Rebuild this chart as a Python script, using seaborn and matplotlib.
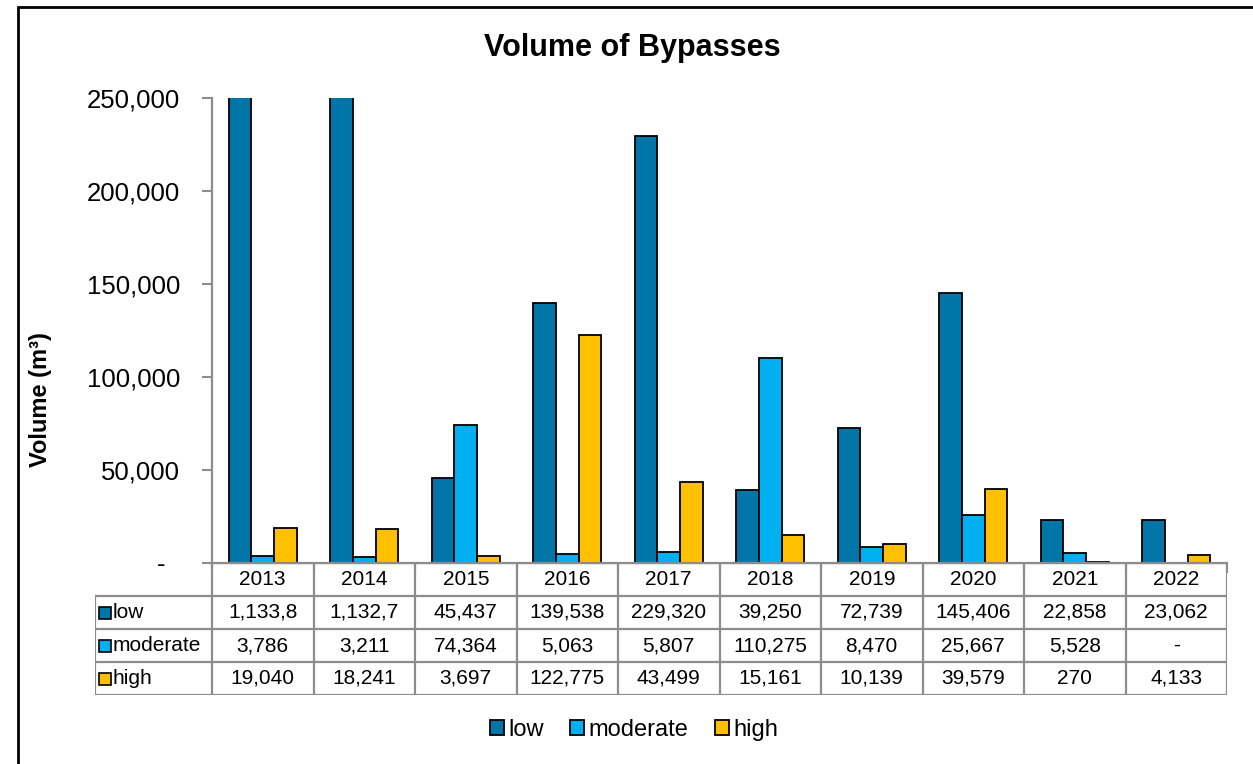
import numpy as np
import pandas as pd
import matplotlib
matplotlib.use('Agg')
import matplotlib.pyplot as plt
import seaborn as sns
from matplotlib.patches import Patch, Rectangle
from matplotlib.ticker import FuncFormatter, FixedLocator


years = ['2013', '2014', '2015', '2016', '2017', '2018', '2019', '2020', '2021', '2022']
levels = ['low', 'moderate', 'high']
low = [1133800, 1132700, 45437, 139538, 229320, 39250, 72739, 145406, 22858, 23062]
moderate = [3786, 3211, 74364, 5063, 5807, 110275, 8470, 25667, 5528, 0]
high = [19040, 18241, 3697, 122775, 43499, 15161, 10139, 39579, 270, 4133]
y_ticks = [0, 50000, 100000, 150000, 200000, 250000]

colors = {'low': '#0076A8', 'moderate': '#00B0F0', 'high': '#FFC000'}
grid_grey = '#8C8C8C'

W, H = 1253, 764

sns.set_style('white')
plt.rcParams['font.family'] = ['Liberation Sans', 'DejaVu Sans']
plt.rcParams['text.color'] = 'black'
plt.rcParams['xtick.color'] = 'black'
plt.rcParams['ytick.color'] = 'black'
plt.rcParams['axes.labelcolor'] = 'black'


def fmt_value(v):
    # Excel-style accounting: zero shown as a dash, wide values clipped by the cell
    if v == 0:
        return '-'
    return f'{v:,.0f}'[:7]


df = pd.DataFrame({
    'year': np.repeat(years, len(levels)),
    'level': levels * len(years),
    'volume': [v for trio in zip(low, moderate, high) for v in trio],
})

fig = plt.figure(figsize=(W / 100, H / 100), dpi=100)

# outer chart border (right/bottom edges fall outside the image)
fig.add_artist(Rectangle((18 / W, -0.05), 1.2, (H - 7) / H + 0.05,
                         transform=fig.transFigure, fill=False,
                         edgecolor='black', linewidth=2))

ax = fig.add_axes([212 / W, (H - 563) / H, (1227 - 212) / W, (563 - 98) / H])
sns.barplot(data=df, x='year', y='volume', hue='level', hue_order=levels,
            palette=colors, width=0.67, gap=0, edgecolor='black',
            linewidth=1.3, saturation=1, legend=False, ax=ax)

ax.set_ylim(0, 250000)
ax.set_xlim(-0.5, len(years) - 0.5)
ax.yaxis.set_major_locator(FixedLocator(y_ticks))
ax.yaxis.set_major_formatter(FuncFormatter(lambda v, p: '-  ' if v == 0 else f'{v:,.0f}'))
ax.tick_params(axis='y', length=7, width=1.5, color=grid_grey, labelcolor='black',
               pad=16, labelsize=18.5, left=True)
ax.set_xticks(np.arange(len(years) + 1) - 0.5)
ax.set_xticklabels([])
ax.tick_params(axis='x', length=7, width=1.5, color=grid_grey, bottom=True)
ax.set_xlabel('')
ax.set_ylabel('')
for side in ['top', 'right']:
    ax.spines[side].set_visible(False)
for side in ['left', 'bottom']:
    ax.spines[side].set_color(grid_grey)
    ax.spines[side].set_linewidth(1.6)

# data table under the plot
col_w = (1227 - 212) / len(years)
x_left = -0.5 - (212 - 95) / col_w
tax = fig.add_axes([95 / W, (H - 695) / H, (1227 - 95) / W, (695 - 563) / H])
tax.set_xlim(x_left, len(years) - 0.5)
tax.set_ylim(4, 0)
tax.axis('off')

line_kw = dict(color=grid_grey, linewidth=1.6, solid_capstyle='projecting')
for i in range(len(years) + 1):
    tax.plot([i - 0.5, i - 0.5], [0, 4], **line_kw)
tax.plot([x_left, x_left], [1, 4], **line_kw)
tax.plot([-0.5, len(years) - 0.5], [0, 0], **line_kw)
for r in range(1, 5):
    tax.plot([x_left, len(years) - 0.5], [r, r], **line_kw)

for i, yr in enumerate(years):
    tax.text(i, 0.5, yr, ha='center', va='center', fontsize=15)

series = {'low': low, 'moderate': moderate, 'high': high}
for r, lvl in enumerate(levels, start=1):
    tax.plot([x_left + 10 / col_w], [r + 0.5], marker='s', markersize=8,
             markerfacecolor=colors[lvl], markeredgecolor='black', markeredgewidth=1.2)
    tax.text(x_left + 18 / col_w, r + 0.5, lvl, ha='left', va='center', fontsize=15)
    for i, v in enumerate(series[lvl]):
        tax.text(i, r + 0.5, fmt_value(v), ha='center', va='center', fontsize=15)

fig.text(632 / W, 1 - 48 / H, 'Volume of Bypasses', ha='center', va='center',
         fontsize=22, fontweight='bold')
fig.text(40 / W, 1 - 400 / H, 'Volume (m³)', ha='center', va='center',
         rotation=90, fontsize=17, fontweight='bold')

handles = [Patch(facecolor=colors[l], edgecolor='black', linewidth=1.3, label=l) for l in levels]
fig.legend(handles=handles, loc='center', bbox_to_anchor=(634 / W, 1 - 730 / H), ncol=3,
           frameon=False, fontsize=17, handlelength=0.6, handleheight=0.6,
           handletextpad=0.2, columnspacing=1.1)

fig.savefig('out.png', dpi=100)
